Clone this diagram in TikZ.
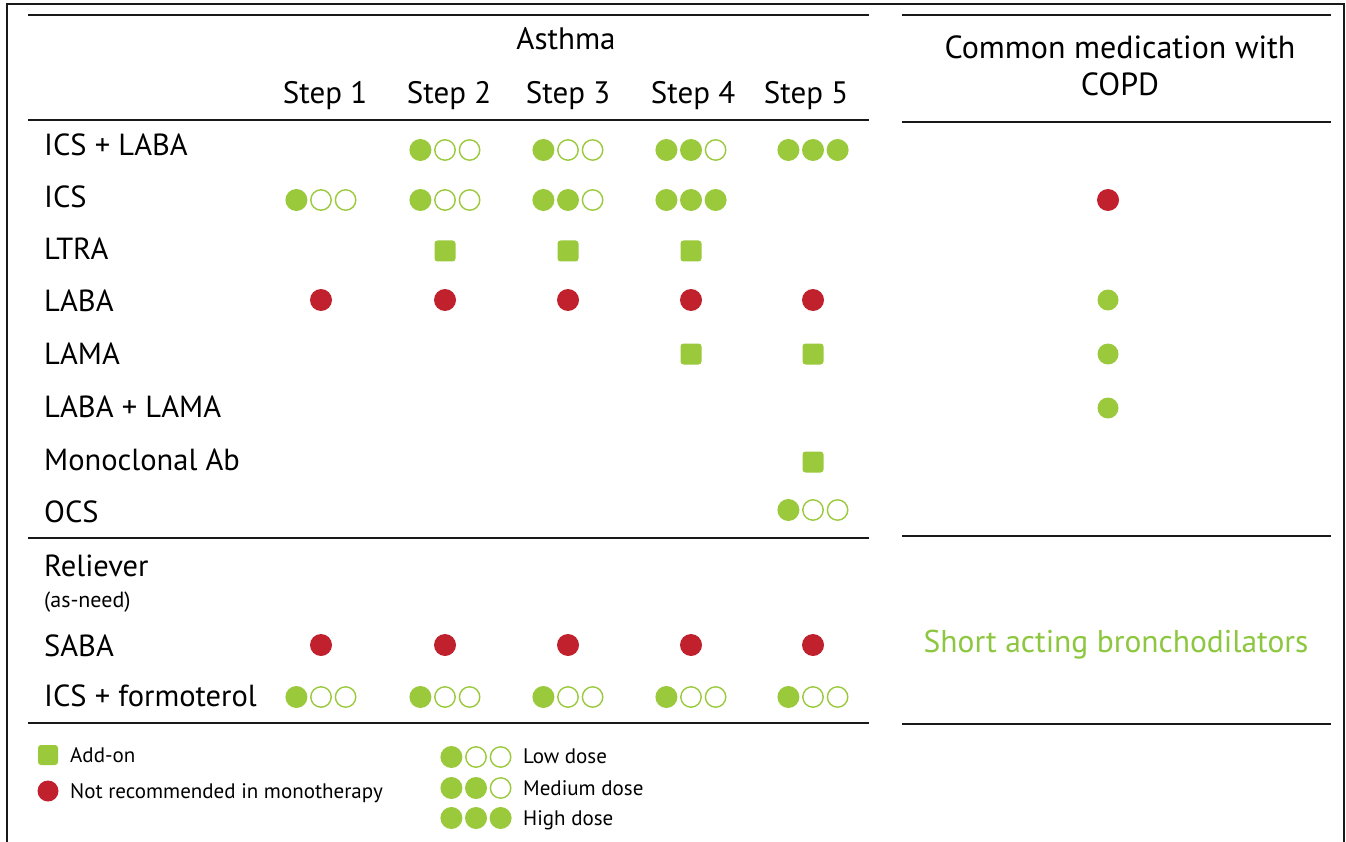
\documentclass[tikz,border=0pt]{standalone}
\usepackage{fontspec}
\setmainfont{PT Sans}
\definecolor{agreen}{RGB}{154,201,60}
\definecolor{tgreen}{RGB}{141,198,63}
\definecolor{ared}{RGB}{193,33,45}
\definecolor{rulec}{RGB}{25,25,25}
\newcommand\dosedots[4]{% name, x, y, filled count
  \foreach \i in {1,2,3}{%
    \ifnum\i>#4\relax
      \node[opendot] (#1\i) at ({#2+(\i-2)*24.6},#3) {};
    \else
      \node[fulldot] (#1\i) at ({#2+(\i-2)*24.6},#3) {};
    \fi}}
\begin{document}
\begin{tikzpicture}[x=1pt,y=-1pt,
  lbl/.style={anchor=base west, inner sep=0, font=\fontsize{30.5}{33}\selectfont},
  head/.style={anchor=base, inner sep=0, font=\fontsize{31}{34}\selectfont},
  chead/.style={anchor=base, inner sep=0, font=\fontsize{32}{35}\selectfont},
  small/.style={anchor=base west, inner sep=0, font=\fontsize{22}{25}\selectfont},
  legtxt/.style={anchor=base west, inner sep=0, font=\fontsize{21}{24}\selectfont},
  fulldot/.style={circle, fill=agreen, minimum size=22pt, inner sep=0},
  opendot/.style={circle, draw=agreen, line width=1.4pt, fill=white, minimum size=20.4pt, inner sep=0},
  sqbox/.style={rectangle, rounded corners=3pt, fill=agreen, minimum size=21pt, inner sep=0},
  reddot/.style={circle, fill=ared, minimum size=22pt, inner sep=0},
  gdot/.style={circle, fill=agreen, minimum size=21pt, inner sep=0},
  rulel/.style={draw=rulec, line width=1.6pt},
  frame/.style={draw=rulec, line width=1.1pt}]
\useasboundingbox (0,0) rectangle (1346,842);
% outer frame (open at bottom)
\draw[frame] (7,842) -- (7,4) -- (1344,4) -- (1344,842);
% rules left table
\foreach \yy in {15,120,538,723} \draw[rulel] (28,\yy) -- (869,\yy);
% rules right table
\foreach \yy in {15,122,536,724} \draw[rulel] (902,\yy) -- (1331,\yy);
% headers
\node[head] (asthma) at (566,50) {Asthma};
\node[head] (s1) at (325,104) {Step 1};
\node[head] (s2) at (449,104) {Step 2};
\node[head] (s3) at (568,104) {Step 3};
\node[head] (s4) at (693,104) {Step 4};
\node[head] (s5) at (806,104) {Step 5};
\node[chead] (copd1) at (1120,59) {Common medication with};
\node[chead] (copd2) at (1120,96) {COPD};
% row labels
\node[lbl] (r1) at (44,156) {ICS + LABA};
\node[lbl] (r2) at (44,208) {ICS};
\node[lbl] (r3) at (44,260) {LTRA};
\node[lbl] (r4) at (44,311) {LABA};
\node[lbl] (r5) at (44,364) {LAMA};
\node[lbl] (r6) at (44,417) {LABA + LAMA};
\node[lbl] (r7) at (44,470) {Monoclonal Ab};
\node[lbl] (r8) at (44,522) {OCS};
\node[lbl] (r9) at (44,576) {Reliever};
\node[small] (r9b) at (44,607) {(as-need)};
\node[lbl] (r10) at (44,656) {SABA};
\node[lbl] (r11) at (44,706) {ICS + formoterol};
% ICS + LABA
\dosedots{a2}{445}{150}{1}
\dosedots{a3}{568}{150}{1}
\dosedots{a4}{691}{150}{2}
\dosedots{a5}{813}{150}{3}
% ICS
\dosedots{b1}{321}{200}{1}
\dosedots{b2}{445}{200}{1}
\dosedots{b3}{568}{200}{2}
\dosedots{b4}{691}{200}{3}
\node[reddot] (bc) at (1108,200) {};
% LTRA
\node[sqbox] (c2) at (445,251) {};
\node[sqbox] (c3) at (568,251) {};
\node[sqbox] (c4) at (691,251) {};
% LABA
\foreach \xx/\nn in {321/1,445/2,568/3,691/4,813/5} \node[reddot] (d\nn) at (\xx,300) {};
\node[gdot] (dc) at (1108,300) {};
% LAMA
\node[sqbox] (e4) at (691,354) {};
\node[sqbox] (e5) at (813,354) {};
\node[gdot] (ec) at (1108,354) {};
% LABA + LAMA
\node[gdot] (fc) at (1108,408) {};
% Monoclonal Ab
\node[sqbox] (g5) at (813,462) {};
% OCS
\dosedots{h5}{813}{510}{1}
% SABA
\foreach \xx/\nn in {321/1,445/2,568/3,691/4,813/5} \node[reddot] (k\nn) at (\xx,645) {};
% ICS + formoterol
\foreach \xx/\nn in {321/1,445/2,568/3,691/4,813/5} {\dosedots{m\nn}{\xx}{697}{1}}
% COPD relievers
\node[anchor=base, inner sep=0, text=tgreen, font=\fontsize{31.5}{35}\selectfont] (sab) at (1116,652) {Short acting bronchodilators};
% legend
\node[sqbox, minimum size=20pt] (lg1) at (48,755) {};
\node[legtxt] (lg1t) at (70,762) {Add-on};
\node[reddot, minimum size=21pt] (lg2) at (48,791) {};
\node[legtxt] (lg2t) at (70,798) {Not recommended in monotherapy};
\dosedots{ll}{476}{757}{1}
\node[legtxt] (lowt) at (523,763) {Low dose};
\dosedots{lm}{476}{788}{2}
\node[legtxt] (medt) at (523,795) {Medium dose};
\dosedots{lh}{476}{818}{3}
\node[legtxt] (hight) at (523,825) {High dose};
\end{tikzpicture}
\end{document}
